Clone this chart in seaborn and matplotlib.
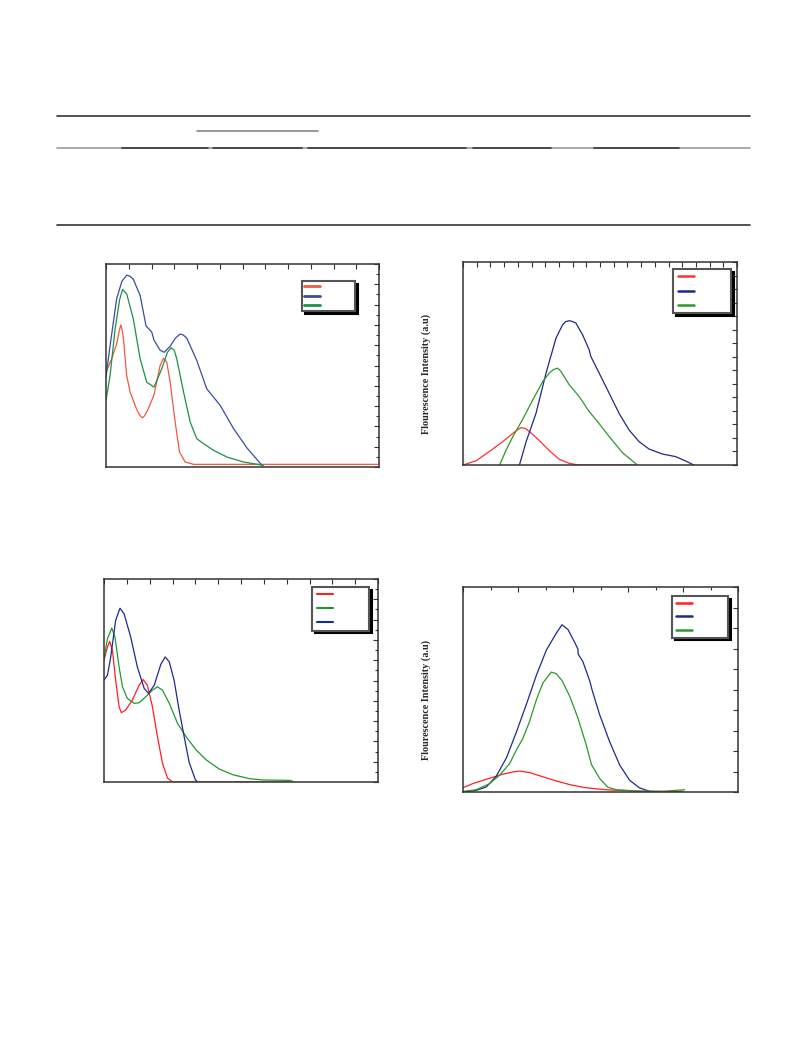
import matplotlib
matplotlib.use("Agg")
import matplotlib.pyplot as plt
from matplotlib.lines import Line2D
from matplotlib.ticker import MultipleLocator
import seaborn as sns
import pandas as pd

# === data (x, y in tick units) ===
# panel A (top left)
a_red_x = [0, 0.25, 0.47, 0.58, 0.65, 0.70, 0.76, 0.91, 1.06, 1.35, 1.50, 1.60, 1.70, 1.86, 2.11, 2.38, 2.53, 2.67, 2.82, 3.04, 3.23, 3.48, 3.85, 12]
a_red_y = [9.34, 10.66, 12.13, 13.4, 14.0, 13.6, 12.8, 9.0, 7.38, 5.67, 5.05, 4.85, 5.05, 5.74, 7.11, 10.0, 10.72, 10.33, 8.36, 4.43, 1.48, 0.49, 0.26, 0.26]
a_blue_x = [0, 0.18, 0.47, 0.70, 0.91, 1.05, 1.20, 1.50, 1.76, 2.01, 2.11, 2.38, 2.56, 2.82, 3.05, 3.26, 3.40, 3.55, 3.99, 4.43, 5.02, 5.61, 6.20, 6.86]
a_blue_y = [8.85, 11.97, 16.6, 18.3, 18.9, 18.8, 18.5, 16.9, 13.9, 13.3, 12.5, 11.5, 11.3, 11.9, 12.7, 13.1, 13.0, 12.7, 10.5, 7.7, 6.07, 3.77, 1.87, 0.16]
a_green_x = [0, 0.18, 0.40, 0.60, 0.73, 0.91, 1.20, 1.50, 1.79, 2.11, 2.45, 2.70, 2.86, 3.00, 3.11, 3.41, 3.70, 3.99, 4.29, 4.73, 5.32, 6.05, 6.93]
a_green_y = [6.56, 9.02, 13.6, 16.5, 17.5, 17.05, 14.6, 10.66, 8.36, 7.87, 9.67, 11.3, 11.74, 11.5, 10.66, 7.38, 4.43, 2.79, 2.30, 1.64, 0.98, 0.49, 0.16]

# panel B (top right)
b_red_x = [0, 0.97, 1.94, 2.91, 3.64, 4.00, 4.24, 4.55, 4.85, 5.58, 6.30, 7.03, 7.76, 8.48, 12.6]
b_red_y = [0, 0.32, 1.01, 1.73, 2.34, 2.62, 2.76, 2.70, 2.47, 1.80, 1.06, 0.42, 0.12, 0, 0]
b_blue_x = [4.12, 4.61, 5.33, 6.06, 6.79, 7.27, 7.50, 7.76, 8.00, 8.24, 8.73, 9.21, 9.33, 9.94, 10.67, 11.39, 12.12, 12.85, 13.58, 14.55, 15.52, 16.24, 16.85]
b_blue_y = [0, 1.73, 3.82, 6.79, 9.38, 10.36, 10.6, 10.66, 10.6, 10.49, 9.62, 8.51, 8.02, 6.79, 5.30, 3.82, 2.59, 1.73, 1.18, 0.81, 0.62, 0.30, 0]
b_green_x = [2.67, 3.15, 3.64, 4.36, 5.09, 5.82, 6.30, 6.60, 6.91, 7.15, 7.76, 8.48, 9.21, 9.82, 10.67, 11.64, 12.73]
b_green_y = [0, 1.11, 2.10, 3.38, 4.81, 6.17, 6.79, 7.05, 7.16, 6.91, 5.92, 5.06, 3.95, 3.21, 2.10, 0.91, 0]

# panel C (bottom left)
c_red_x = [0, 0.15, 0.25, 0.37, 0.51, 0.66, 0.76, 0.95, 1.24, 1.54, 1.71, 1.90, 2.12, 2.34, 2.56, 2.78, 3.0, 8.1]
c_red_y = [12.0, 13.3, 13.86, 12.97, 10.03, 7.42, 6.83, 7.09, 8.07, 9.54, 10.1, 9.54, 7.42, 4.48, 1.86, 0.39, 0, 0]
c_green_x = [0, 0.15, 0.34, 0.48, 0.66, 0.81, 1.02, 1.32, 1.54, 1.83, 2.12, 2.34, 2.56, 2.86, 3.22, 3.59, 4.03, 4.47, 5.05, 5.64, 6.37, 6.95, 8.13, 8.27]
c_green_y = [12.16, 14.12, 15.16, 14.28, 11.34, 9.38, 8.24, 7.75, 7.81, 8.40, 9.05, 9.38, 9.05, 7.75, 5.78, 4.48, 3.17, 2.19, 1.27, 0.72, 0.33, 0.20, 0.16, 0.07]
c_blue_x = [0, 0.15, 0.29, 0.51, 0.70, 0.88, 1.17, 1.46, 1.76, 1.95, 2.20, 2.49, 2.68, 2.86, 3.07, 3.29, 3.51, 3.73, 4.0, 4.10]
c_blue_y = [10.03, 10.52, 12.25, 15.92, 17.12, 16.57, 14.28, 11.34, 9.22, 8.73, 9.54, 11.6, 12.32, 11.83, 10.03, 7.09, 4.48, 1.93, 0.23, 0]

# panel D (bottom right)
d_red_x = [0, 0.36, 0.73, 1.09, 1.45, 1.82, 2.06, 2.42, 2.91, 3.39, 3.88, 4.36, 4.85, 5.33, 5.94, 6.55, 8.0]
d_red_y = [0.21, 0.41, 0.57, 0.72, 0.87, 0.98, 1.02, 0.95, 0.74, 0.54, 0.36, 0.23, 0.15, 0.10, 0.07, 0.03, 0.03]
d_blue_x = [0.06, 0.48, 0.85, 1.21, 1.58, 1.94, 2.30, 2.67, 3.03, 3.39, 3.60, 3.82, 4.06, 4.18, 4.19, 4.36, 4.61, 4.70, 4.97, 5.33, 5.70, 6.06, 6.42, 6.79, 7.27]
d_blue_y = [0, 0.08, 0.25, 0.77, 1.67, 2.92, 4.26, 5.70, 6.92, 7.74, 8.16, 7.92, 7.30, 6.97, 6.72, 6.36, 5.41, 4.95, 3.77, 2.46, 1.31, 0.57, 0.20, 0.03, 0]
d_green_x = [0, 0.48, 0.97, 1.33, 1.70, 1.94, 2.18, 2.42, 2.67, 2.91, 3.21, 3.39, 3.60, 3.88, 4.18, 4.48, 4.67, 4.97, 5.27, 5.58, 6.30, 7.27, 8.06]
d_green_y = [0.03, 0.11, 0.41, 0.82, 1.39, 2.05, 2.62, 3.44, 4.51, 5.33, 5.85, 5.77, 5.44, 4.67, 3.61, 2.30, 1.34, 0.66, 0.23, 0.11, 0.05, 0.03, 0.11]

YLABEL = "Flourescence Intensity (a.u)"

# === layout (figure fractions) ===
W, H = 793, 1057


def fig_rect(x0, y0, x1, y1):
    return [x0 / W, 1 - y1 / H, (x1 - x0) / W, (y1 - y0) / H]


PANELS = [
    # rect, axis limits, tick steps, series, legend (left, top, width, spacing, pad), ylabel
    dict(rect=fig_rect(106, 264, 379, 467), xmax=12, ymax=20, xt=(1, 1), yt=(2, 1),
         series=[(a_red_x, a_red_y, "#f05a40"), (a_blue_x, a_blue_y, "#3a4c9e"), (a_green_x, a_green_y, "#1f8f45")],
         leg=(0.718, 0.916, 0.194, 0.55, 0.3), ylabel=False, leg_lw=2.0),
    dict(rect=fig_rect(463, 262, 737, 465), xmax=20, ymax=15, xt=(1, 1), yt=(1, 1),
         series=[(b_red_x, b_red_y, "#ff3030"), (b_blue_x, b_blue_y, "#1f2a88"), (b_green_x, b_green_y, "#2a9a2a")],
         leg=(0.766, 0.966, 0.212, 1.2, 0.7), ylabel=True, leg_lw=1.8),
    dict(rect=fig_rect(104, 579, 378, 782), xmax=12, ymax=20, xt=(1, 1), yt=(2, 1),
         series=[(c_red_x, c_red_y, "#ff2020"), (c_green_x, c_green_y, "#1f9a2a"), (c_blue_x, c_blue_y, "#1f2a90")],
         leg=(0.759, 0.961, 0.208, 1.15, 0.7), ylabel=False, leg_lw=1.5),
    dict(rect=fig_rect(463, 587, 738, 792), xmax=10, ymax=10, xt=(2, 1), yt=(1, 1),
         series=[(d_red_x, d_red_y, "#ff2020"), (d_blue_x, d_blue_y, "#1f2a90"), (d_green_x, d_green_y, "#2a9a2a")],
         leg=(0.76, 0.956, 0.204, 1.1, 0.6), ylabel=True, leg_lw=1.8),
]

sns.set_style("white")
plt.rcParams['font.family'] = ['DejaVu Sans']

fig = plt.figure(figsize=(W / 100, H / 100), dpi=100)

# --- table rules at the top of the page ---
for y in (115.5, 225):
    fig.add_artist(Line2D([57 / W, 750 / W], [1 - y / H] * 2, color="#333333", lw=1.2))
fig.add_artist(Line2D([197 / W, 318 / W], [1 - 131 / H] * 2, color="#888888", lw=1.2))
fig.add_artist(Line2D([57 / W, 750 / W], [1 - 148 / H] * 2, color="#9a9a9a", lw=1.2))
for x0, x1 in [(122, 208), (213, 302), (308, 466), (473, 551), (594, 679)]:
    fig.add_artist(Line2D([x0 / W, x1 / W], [1 - 148 / H] * 2, color="#3a3a3a", lw=1.2))

# --- spectra panels ---
for p in PANELS:
    ax = fig.add_axes(p["rect"])
    for xs, ys, col in p["series"]:
        df = pd.DataFrame({"x": xs, "y": ys})
        sns.lineplot(data=df, x="x", y="y", color=col, lw=0.9, ax=ax, estimator=None)
    ax.set_xlim(0, p["xmax"])
    ax.set_ylim(0, p["ymax"])
    ax.xaxis.set_major_locator(MultipleLocator(p["xt"][0]))
    ax.xaxis.set_minor_locator(MultipleLocator(p["xt"][1]))
    ax.yaxis.set_major_locator(MultipleLocator(p["yt"][0]))
    ax.yaxis.set_minor_locator(MultipleLocator(p["yt"][1]))
    ax.tick_params(which="both", direction="in", top=True, right=True,
                   labelbottom=False, labelleft=False, color="#333333", width=0.8)
    ax.tick_params(which="major", length=3.5)
    ax.tick_params(which="minor", length=2)
    for s in ax.spines.values():
        s.set_color("#333333")
        s.set_linewidth(1.1)
    ax.set_xlabel("")
    if p["ylabel"]:
        ax.set_ylabel(YLABEL, family="Liberation Serif", weight="bold", fontsize=7.3)
        ax.yaxis.set_label_coords(-0.115, 0.45)
    else:
        ax.set_ylabel("")

    left, top, width, spacing, pad = p["leg"]
    leg = ax.legend(ax.get_lines(), [" ", " ", " "], loc="upper left",
                    bbox_to_anchor=(left, 0, width, top), mode="expand", borderaxespad=0,
                    fontsize=5, labelspacing=spacing, borderpad=pad, handlelength=2.3,
                    fancybox=False, framealpha=1, edgecolor="#555555",
                    shadow={"color": "black", "alpha": 1})
    leg.get_frame().set_linewidth(1.5)
    for ln in leg.get_lines():
        ln.set_linewidth(p["leg_lw"])

fig.savefig("out.png", dpi=100)
